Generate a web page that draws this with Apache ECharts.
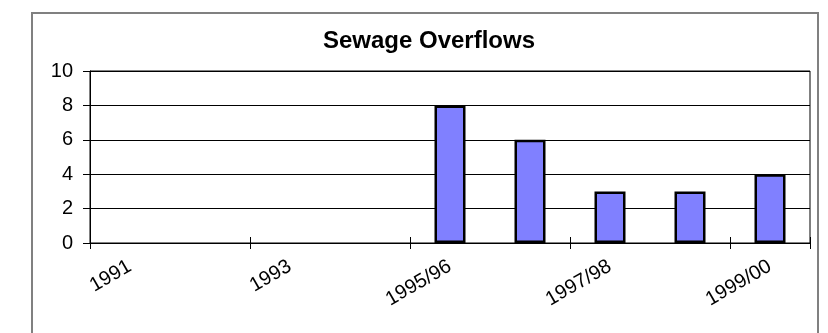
<!DOCTYPE html>
<html>
<head>
<meta charset="utf-8">
<script src="https://cdn.jsdelivr.net/npm/echarts@6/dist/echarts.min.js"></script>
<style>
  html, body { margin: 0; padding: 0; background: #fff; }
  #chart { width: 828px; height: 333px; }
</style>
</head>
<body>
<div id="chart"></div>
<script>
// Reporting years and number of sewage overflows recorded in each
const years = ['1991', '1992', '1993', '1994', '1995/96', '1996/97', '1997/98', '1998/99', '1999/00'];
const overflows = [null, null, null, null, 8, 6, 3, 3, 4];
const yTicks = [0, 2, 4, 6, 8, 10];

const chart = echarts.init(document.getElementById('chart'), null, { renderer: 'canvas' });

const font = '"Liberation Sans", Arial, sans-serif';

chart.setOption({
  animation: false,
  backgroundColor: '#ffffff',
  title: {
    text: 'Sewage Overflows',
    left: 424,
    top: 24,
    textAlign: 'center',
    textStyle: { fontFamily: font, fontSize: 24, fontWeight: 'bold', color: '#000' }
  },
  graphic: [{
    type: 'rect',
    silent: true,
    shape: { x: 32, y: 13, width: 786, height: 340 },
    style: { fill: 'none', stroke: '#808080', lineWidth: 2 }
  }],
  grid: {
    left: 90, right: 18, top: 71, bottom: 90,
    show: true, borderColor: '#000', borderWidth: 1, backgroundColor: 'transparent'
  },
  xAxis: [{
    type: 'category',
    data: years,
    boundaryGap: true,
    axisLine: { show: true, lineStyle: { color: '#000', width: 1 } },
    axisTick: { show: true, interval: 1, length: 6, lineStyle: { color: '#000' } },
    axisLabel: {
      interval: 1, rotate: 30, margin: 22,
      fontFamily: font, fontSize: 20, color: '#000'
    },
    splitLine: { show: false }
  }, {
    // inner half of the crossing tick marks
    type: 'category',
    data: years,
    position: 'bottom',
    boundaryGap: true,
    axisLine: { show: false },
    axisTick: { show: true, inside: true, interval: 1, length: 6, lineStyle: { color: '#000' } },
    axisLabel: { show: false },
    splitLine: { show: false }
  }],
  yAxis: {
    type: 'value',
    min: yTicks[0],
    max: yTicks[yTicks.length - 1],
    interval: 2,
    axisLine: { show: true, lineStyle: { color: '#000', width: 1 } },
    axisTick: { show: true, length: 7, lineStyle: { color: '#000' } },
    axisLabel: { margin: 17, fontFamily: font, fontSize: 20, color: '#000' },
    splitLine: { show: true, lineStyle: { color: '#000', width: 1 } }
  },
  series: [{
    type: 'bar',
    data: overflows,
    xAxisIndex: 0,
    barWidth: 31,
    itemStyle: { color: '#8080ff', borderColor: '#000', borderWidth: 2.5 }
  }]
});
</script>
</body>
</html>
